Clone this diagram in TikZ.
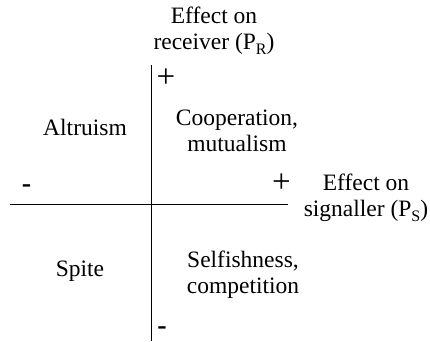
\documentclass[tikz,border=0pt]{standalone}
\usepackage{fontspec}
\setmainfont{Liberation Serif}
\newcommand{\mysub}[1]{\raisebox{-4.5pt}{\fontsize{16}{16}\selectfont #1}}
\begin{document}
\begin{tikzpicture}[x=1pt,y=-1pt,
  lbl/.style={inner sep=0pt,align=center,font=\fontsize{23.5}{26}\selectfont},
  plussgn/.style={inner sep=0pt,font=\fontsize{33}{33}\selectfont},
  minussgn/.style={inner sep=0pt,font=\bfseries\fontsize{28}{28}\selectfont},
  axis/.style={line width=1pt,black}]
\useasboundingbox (0,0) rectangle (430,341);
\coordinate (vt) at (151,65);
\coordinate (vb) at (151,341);
\coordinate (hl) at (10,204);
\coordinate (hr) at (288,204);
\draw[axis] (vt) -- (vb);
\draw[axis] (hl) -- (hr);
\node[lbl] (ylab) at (214,31) {Effect on\\receiver (P\mysub{R})};
\node[lbl] (xlab) at (366,198) {Effect on\\signaller (P\mysub{S})};
\node[plussgn] (yplus) at (166,78) {+};
\node[minussgn] (yminus) at (162,331) {-};
\node[minussgn] (xminus) at (26.5,189) {-};
\node[plussgn] (xplus) at (281.5,183.5) {+};
\node[lbl] (alt) at (85,127) {Altruism};
\node[lbl] (coop) at (237,131) {Cooperation,\\mutualism};
\node[lbl] (spite) at (80,271) {Spite};
\node[lbl] (self) at (243,275) {Selfishness,\\competition};
\end{tikzpicture}
\end{document}
